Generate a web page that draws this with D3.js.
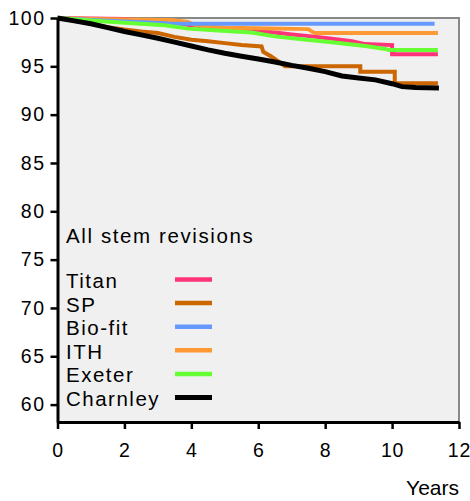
<!DOCTYPE html>
<html>
<head>
<meta charset="utf-8">
<script src="https://cdn.jsdelivr.net/npm/d3@7"></script>
<style>
  html,body{margin:0;padding:0;background:#fff;}
  svg text{font-family:"Liberation Sans",Arial,Helvetica,sans-serif;fill:#000;}
</style>
</head>
<body>
<div id="chart"></div>
<script>
// survival (%) vs years
const titan   = [[0,100],[1,99.95],[2,99.9],[3,99.6],[4,99.25],[4.8,99.0],[5.5,98.8],[6,98.65],[6.5,98.5],[7,98.3],[7.6,98.1],[8.2,97.85],[8.8,97.6],[9.2,97.3],[10,97.2],[10,96.25],[11.37,96.25]];
const sp      = [[0,100],[0.5,99.75],[1,99.4],[1.5,99.05],[2,98.8],[2.5,98.6],[3,98.45],[3.5,98.05],[4,97.75],[4.5,97.6],[5,97.4],[5.5,97.2],[6.1,97.05],[6.15,96.5],[6.4,96.0],[6.6,95.5],[6.8,95.0],[9.05,95.0],[9.05,94.45],[10.08,94.45],[10.08,93.25],[11.37,93.25]];
const biofit  = [[0,100],[1,99.8],[2,99.65],[3.25,99.45],[3.3,99.4],[11.27,99.4]];
const ith     = [[0,100],[1,99.9],[2,99.85],[3.4,99.8],[3.9,99.6],[4.1,99.3],[4.5,99.1],[5,99.0],[6,98.95],[7.5,98.85],[7.6,98.6],[7.7,98.45],[11.37,98.45]];
const exeter  = [[0,100],[1,99.75],[2,99.5],[3.2,99.25],[3.9,98.9],[4.8,98.7],[5.8,98.5],[6.5,98.1],[7.3,97.8],[8.2,97.5],[9.2,97.1],[9.8,96.8],[9.9,96.7],[11.37,96.7]];
const charnley= [[0,100],[0.5,99.7],[1,99.4],[1.5,99.0],[2,98.6],[2.5,98.25],[3,97.9],[3.5,97.5],[4,97.1],[4.5,96.7],[5,96.35],[5.5,96.05],[6,95.75],[6.5,95.45],[7,95.1],[7.5,94.8],[8,94.45],[8.5,94.0],[9,93.8],[9.5,93.6],[10,93.2],[10.3,92.9],[10.7,92.8],[11.4,92.75]];

const seriesNames = ['Titan','SP','Bio-fit','ITH','Exeter','Charnley'];
const seriesData  = [titan, sp, biofit, ith, exeter, charnley];
const seriesColors= ['#ff3377','#cc6600','#6699ff','#ff9933','#66ff33','#000000'];
const xTicks = [0,2,4,6,8,10,12];
const yTicks = [60,65,70,75,80,85,90,95,100];
const legendTitle = 'All stem revisions';

const W=470,H=501;
const m={l:57.5,r:11,t:18,b:79};
const svg=d3.select('#chart').append('svg').attr('width',W).attr('height',H);
const x=d3.scaleLinear().domain([0,12]).range([m.l,W-m.r]);
const y=d3.scaleLinear().domain([58.2,100]).range([H-m.b,m.t]);

// plot background and grey frame
svg.append('rect').attr('x',x(0)).attr('y',y(100)).attr('width',x(12)-x(0)).attr('height',y(58.2)-y(100)).attr('fill','#f0f0f0');
svg.append('path').attr('d',`M${x(0)},${y(100)}H${x(12)}V${y(58.2)}`).attr('fill','none').attr('stroke','#888').attr('stroke-width',2);

// curves (charnley drawn last, on top)
const line=d3.line().x(d=>x(d[0])).y(d=>y(d[1]));
[0,1,3,2,4,5].forEach(i=>{
  svg.append('path').datum(seriesData[i]).attr('fill','none').attr('stroke',seriesColors[i])
    .attr('stroke-width',i===5?5:4).attr('d',line);
});

// axes
const yAx=svg.append('g').attr('transform',`translate(${x(0)},0)`)
  .call(d3.axisLeft(y).tickValues(yTicks).tickSize(7).tickPadding(5).tickSizeOuter(0));
const xAx=svg.append('g').attr('transform',`translate(0,${y(58.2)})`)
  .call(d3.axisBottom(x).tickValues(xTicks).tickSize(7).tickPadding(14).tickSizeOuter(0));
[yAx,xAx].forEach(a=>{
  a.select('.domain').attr('stroke','#000').attr('stroke-width',3);
  a.selectAll('.tick line').attr('stroke','#000').attr('stroke-width',2.5);
  a.selectAll('text').attr('font-size',19.5).attr('fill','#000');
});
yAx.selectAll('text').attr('letter-spacing',1.5);
xAx.selectAll('text').attr('letter-spacing',0.8);
svg.append('text').attr('x',W-11).attr('y',495).attr('text-anchor','end').attr('font-size',21).text('Years');

// legend
svg.append('text').attr('x',66).attr('y',243).attr('font-size',20.5).attr('letter-spacing',1.6).text(legendTitle);
seriesNames.forEach((n,i)=>{
  const yy=288+i*23.6;
  svg.append('text').attr('x',66).attr('y',yy).attr('font-size',20.5).attr('letter-spacing',1.5).text(n);
  svg.append('line').attr('x1',175).attr('x2',212).attr('y1',yy-8.5).attr('y2',yy-8.5)
    .attr('stroke',seriesColors[i]).attr('stroke-width',i===5?5:4.5);
});
</script>
</body>
</html>
